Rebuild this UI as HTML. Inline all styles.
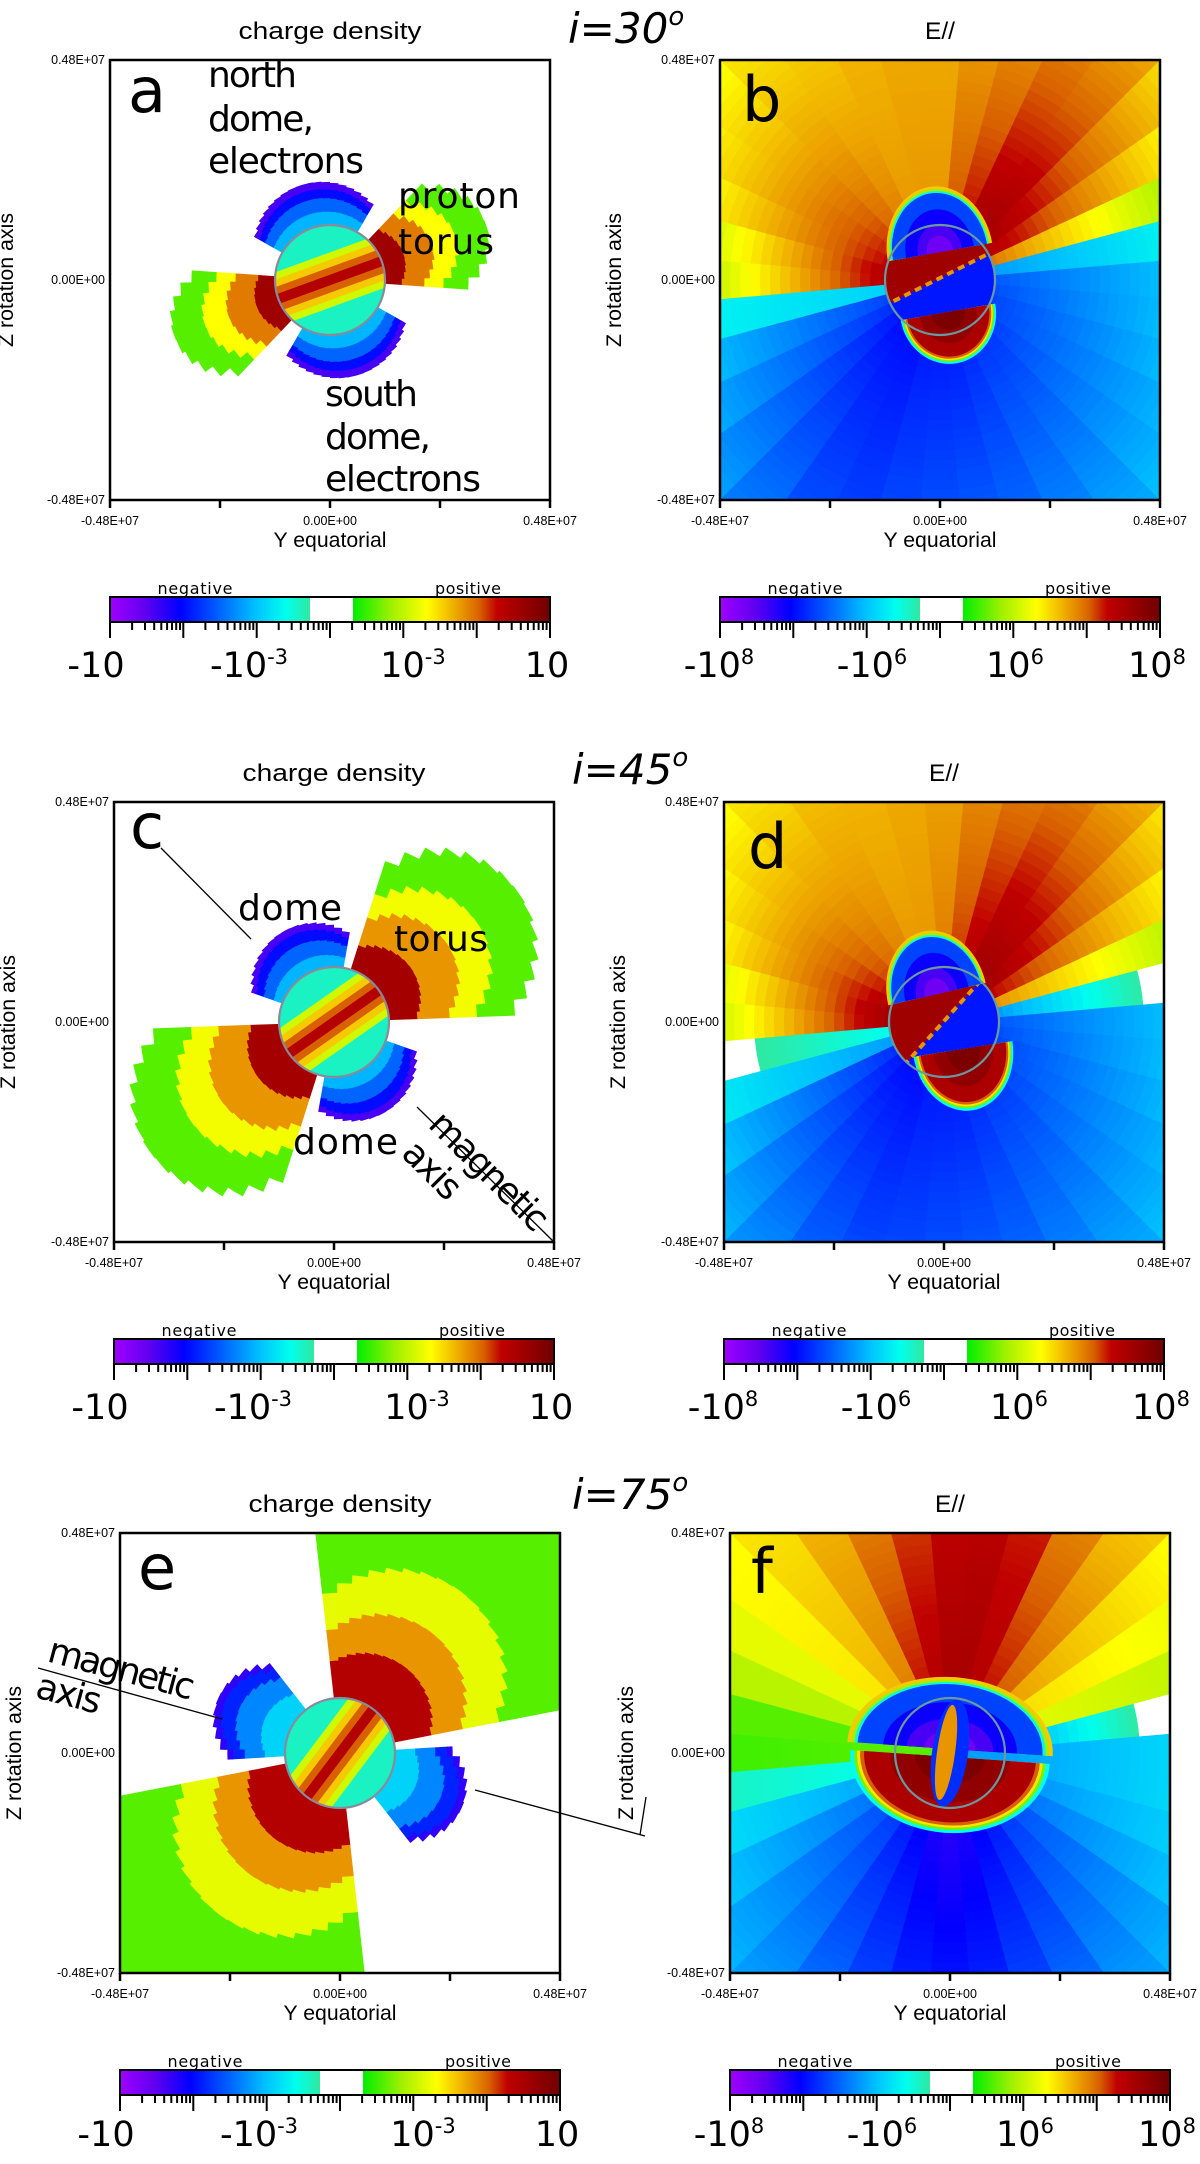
<!DOCTYPE html>
<html><head><meta charset="utf-8"><title>Charge density and E// maps</title>
<style>
html,body{margin:0;padding:0;background:#fff;}
svg{display:block;}
.tk{font-family:"Liberation Sans",sans-serif;font-size:12.5px;fill:#000;}
.ax{font-family:"Liberation Sans",sans-serif;font-size:21px;fill:#000;}
.ttl{font-family:"Liberation Sans",sans-serif;font-size:24px;fill:#000;}
.ann{font-family:"DejaVu Sans","Liberation Sans",sans-serif;font-size:36px;fill:#000;}
.let{font-family:"DejaVu Sans","Liberation Sans",sans-serif;font-size:62px;fill:#000;}
.cbl{font-family:"DejaVu Sans","Liberation Sans",sans-serif;font-size:35px;fill:#000;}
.cbs{font-family:"DejaVu Sans","Liberation Sans",sans-serif;font-size:16px;fill:#000;}
.inc{font-family:"DejaVu Sans","Liberation Sans",sans-serif;font-size:42px;font-style:italic;fill:#000;}
</style></head>
<body>
<svg id="fig" width="1200" height="2164" viewBox="0 0 1200 2164" xmlns="http://www.w3.org/2000/svg">
<defs>
<clipPath id="boxclip"><rect x="0" y="0" width="440" height="440"/></clipPath>
<clipPath id="planetclip"><circle cx="0" cy="0" r="55"/></clipPath>
<linearGradient id="cbar" x1="0" x2="1" y1="0" y2="0">
<stop offset="0" stop-color="#a000ff"/><stop offset="0.08" stop-color="#6000f0"/><stop offset="0.16" stop-color="#0000ff"/>
<stop offset="0.26" stop-color="#0070ff"/><stop offset="0.33" stop-color="#00c0ff"/><stop offset="0.40" stop-color="#00ffee"/>
<stop offset="0.455" stop-color="#30e8a0"/><stop offset="0.455" stop-color="#ffffff"/><stop offset="0.552" stop-color="#ffffff"/>
<stop offset="0.552" stop-color="#00ee00"/><stop offset="0.64" stop-color="#a0f000"/><stop offset="0.72" stop-color="#ffff00"/>
<stop offset="0.78" stop-color="#f0b000"/><stop offset="0.84" stop-color="#d86000"/><stop offset="0.88" stop-color="#c00000"/>
<stop offset="1" stop-color="#700000"/></linearGradient>
</defs>

<text class="inc" x="568" y="43">i=30<tspan font-size="26" dy="-18">o</tspan></text>
<text class="inc" x="572" y="784">i=45<tspan font-size="26" dy="-18">o</tspan></text>
<text class="inc" x="572" y="1509">i=75<tspan font-size="26" dy="-18">o</tspan></text>

<!-- PANEL A -->
<g transform="translate(110,60)">
<g id="hm-a" clip-path="url(#boxclip)"></g>
<rect x="0" y="0" width="440" height="440" fill="none" stroke="#000" stroke-width="2.5"/>
<path d="M0,440v8M110,440v8M220,440v8M330,440v8M440,440v8" stroke="#000" stroke-width="2.5"/>
<text class="ttl" x="220" y="-21" text-anchor="middle" textLength="183" lengthAdjust="spacingAndGlyphs">charge density</text>
<text class="tk" x="-5" y="4" text-anchor="end">0.48E+07</text>
<text class="tk" x="-5" y="224" text-anchor="end">0.00E+00</text>
<text class="tk" x="-5" y="444" text-anchor="end">-0.48E+07</text>
<text class="tk" x="0" y="465" text-anchor="middle">-0.48E+07</text>
<text class="tk" x="220" y="465" text-anchor="middle">0.00E+00</text>
<text class="tk" x="440" y="465" text-anchor="middle">0.48E+07</text>
<text class="ax" x="220" y="487" text-anchor="middle" textLength="113" lengthAdjust="spacingAndGlyphs">Y equatorial</text>
<text class="ax" transform="translate(-97,220) rotate(-90)" text-anchor="middle" textLength="134" lengthAdjust="spacingAndGlyphs">Z rotation axis</text>
<text class="let" x="18" y="52">a</text>
<text class="ann" x="98" y="27" textLength="89">north</text>
<text class="ann" x="98" y="71" textLength="106">dome,</text>
<text class="ann" x="98" y="113" textLength="156">electrons</text>
<text class="ann" x="288" y="148" textLength="122">proton</text>
<text class="ann" x="288" y="194" textLength="96">torus</text>
<text class="ann" x="215" y="346" textLength="93">south</text>
<text class="ann" x="215" y="389" textLength="106">dome,</text>
<text class="ann" x="215" y="431" textLength="156">electrons</text>
</g>
<g transform="translate(110,597)">
<rect x="0" y="0" width="440" height="25" fill="url(#cbar)" stroke="#000" stroke-width="2"/>
<g class="cbt"></g>
<text class="cbs" x="85" y="-3" text-anchor="middle" textLength="75">negative</text>
<text class="cbs" x="358" y="-3" text-anchor="middle" textLength="66">positive</text>
<text class="cbl" x="-14" y="80" text-anchor="middle">-10</text>
<text class="cbl" x="139" y="80" text-anchor="middle">-10<tspan font-size="21" dy="-13">-3</tspan></text>
<text class="cbl" x="303" y="80" text-anchor="middle">10<tspan font-size="21" dy="-13">-3</tspan></text>
<text class="cbl" x="437" y="80" text-anchor="middle">10</text>
</g>

<!-- PANEL B -->
<g transform="translate(720,60)">
<g id="hm-b" clip-path="url(#boxclip)"></g>
<rect x="0" y="0" width="440" height="440" fill="none" stroke="#000" stroke-width="2.5"/>
<path d="M0,440v8M110,440v8M220,440v8M330,440v8M440,440v8" stroke="#000" stroke-width="2.5"/>
<text class="ttl" x="220" y="-21" text-anchor="middle" textLength="30" lengthAdjust="spacingAndGlyphs">E//</text>
<text class="tk" x="-5" y="4" text-anchor="end">0.48E+07</text>
<text class="tk" x="-5" y="224" text-anchor="end">0.00E+00</text>
<text class="tk" x="-5" y="444" text-anchor="end">-0.48E+07</text>
<text class="tk" x="0" y="465" text-anchor="middle">-0.48E+07</text>
<text class="tk" x="220" y="465" text-anchor="middle">0.00E+00</text>
<text class="tk" x="440" y="465" text-anchor="middle">0.48E+07</text>
<text class="ax" x="220" y="487" text-anchor="middle" textLength="113" lengthAdjust="spacingAndGlyphs">Y equatorial</text>
<text class="ax" transform="translate(-99,220) rotate(-90)" text-anchor="middle" textLength="134" lengthAdjust="spacingAndGlyphs">Z rotation axis</text>
<text class="let" x="22" y="61">b</text>
</g>
<g transform="translate(720,597)">
<rect x="0" y="0" width="440" height="25" fill="url(#cbar)" stroke="#000" stroke-width="2"/>
<g class="cbt"></g>
<text class="cbs" x="85" y="-3" text-anchor="middle" textLength="75">negative</text>
<text class="cbs" x="358" y="-3" text-anchor="middle" textLength="66">positive</text>
<text class="cbl" x="-1" y="80" text-anchor="middle">-10<tspan font-size="21" dy="-13">8</tspan></text>
<text class="cbl" x="152" y="80" text-anchor="middle">-10<tspan font-size="21" dy="-13">6</tspan></text>
<text class="cbl" x="295" y="80" text-anchor="middle">10<tspan font-size="21" dy="-13">6</tspan></text>
<text class="cbl" x="437" y="80" text-anchor="middle">10<tspan font-size="21" dy="-13">8</tspan></text>
</g>

<!-- PANEL C -->
<g transform="translate(114,802)">
<g id="hm-c" clip-path="url(#boxclip)"></g>
<rect x="0" y="0" width="440" height="440" fill="none" stroke="#000" stroke-width="2.5"/>
<path d="M0,440v8M110,440v8M220,440v8M330,440v8M440,440v8" stroke="#000" stroke-width="2.5"/>
<text class="ttl" x="220" y="-21" text-anchor="middle" textLength="183" lengthAdjust="spacingAndGlyphs">charge density</text>
<text class="tk" x="-5" y="4" text-anchor="end">0.48E+07</text>
<text class="tk" x="-5" y="224" text-anchor="end">0.00E+00</text>
<text class="tk" x="-5" y="444" text-anchor="end">-0.48E+07</text>
<text class="tk" x="0" y="465" text-anchor="middle">-0.48E+07</text>
<text class="tk" x="220" y="465" text-anchor="middle">0.00E+00</text>
<text class="tk" x="440" y="465" text-anchor="middle">0.48E+07</text>
<text class="ax" x="220" y="487" text-anchor="middle" textLength="113" lengthAdjust="spacingAndGlyphs">Y equatorial</text>
<text class="ax" transform="translate(-99,220) rotate(-90)" text-anchor="middle" textLength="134" lengthAdjust="spacingAndGlyphs">Z rotation axis</text>
<text class="let" x="16" y="46">c</text>
<text class="ann" x="124" y="118" textLength="104">dome</text>
<text class="ann" x="280" y="149" textLength="94">torus</text>
<text class="ann" x="179" y="352" textLength="105">dome</text>
</g>
<g transform="translate(114,1339)">
<rect x="0" y="0" width="440" height="25" fill="url(#cbar)" stroke="#000" stroke-width="2"/>
<g class="cbt"></g>
<text class="cbs" x="85" y="-3" text-anchor="middle" textLength="75">negative</text>
<text class="cbs" x="358" y="-3" text-anchor="middle" textLength="66">positive</text>
<text class="cbl" x="-14" y="80" text-anchor="middle">-10</text>
<text class="cbl" x="139" y="80" text-anchor="middle">-10<tspan font-size="21" dy="-13">-3</tspan></text>
<text class="cbl" x="303" y="80" text-anchor="middle">10<tspan font-size="21" dy="-13">-3</tspan></text>
<text class="cbl" x="437" y="80" text-anchor="middle">10</text>
</g>

<!-- PANEL D -->
<g transform="translate(724,802)">
<g id="hm-d" clip-path="url(#boxclip)"></g>
<rect x="0" y="0" width="440" height="440" fill="none" stroke="#000" stroke-width="2.5"/>
<path d="M0,440v8M110,440v8M220,440v8M330,440v8M440,440v8" stroke="#000" stroke-width="2.5"/>
<text class="ttl" x="220" y="-21" text-anchor="middle" textLength="30" lengthAdjust="spacingAndGlyphs">E//</text>
<text class="tk" x="-5" y="4" text-anchor="end">0.48E+07</text>
<text class="tk" x="-5" y="224" text-anchor="end">0.00E+00</text>
<text class="tk" x="-5" y="444" text-anchor="end">-0.48E+07</text>
<text class="tk" x="0" y="465" text-anchor="middle">-0.48E+07</text>
<text class="tk" x="220" y="465" text-anchor="middle">0.00E+00</text>
<text class="tk" x="440" y="465" text-anchor="middle">0.48E+07</text>
<text class="ax" x="220" y="487" text-anchor="middle" textLength="113" lengthAdjust="spacingAndGlyphs">Y equatorial</text>
<text class="ax" transform="translate(-99,220) rotate(-90)" text-anchor="middle" textLength="134" lengthAdjust="spacingAndGlyphs">Z rotation axis</text>
<text class="let" x="24" y="66">d</text>
</g>
<g transform="translate(724,1339)">
<rect x="0" y="0" width="440" height="25" fill="url(#cbar)" stroke="#000" stroke-width="2"/>
<g class="cbt"></g>
<text class="cbs" x="85" y="-3" text-anchor="middle" textLength="75">negative</text>
<text class="cbs" x="358" y="-3" text-anchor="middle" textLength="66">positive</text>
<text class="cbl" x="-1" y="80" text-anchor="middle">-10<tspan font-size="21" dy="-13">8</tspan></text>
<text class="cbl" x="152" y="80" text-anchor="middle">-10<tspan font-size="21" dy="-13">6</tspan></text>
<text class="cbl" x="295" y="80" text-anchor="middle">10<tspan font-size="21" dy="-13">6</tspan></text>
<text class="cbl" x="437" y="80" text-anchor="middle">10<tspan font-size="21" dy="-13">8</tspan></text>
</g>

<!-- PANEL E -->
<g transform="translate(120,1533)">
<g id="hm-e" clip-path="url(#boxclip)"></g>
<rect x="0" y="0" width="440" height="440" fill="none" stroke="#000" stroke-width="2.5"/>
<path d="M0,440v8M110,440v8M220,440v8M330,440v8M440,440v8" stroke="#000" stroke-width="2.5"/>
<text class="ttl" x="220" y="-21" text-anchor="middle" textLength="183" lengthAdjust="spacingAndGlyphs">charge density</text>
<text class="tk" x="-5" y="4" text-anchor="end">0.48E+07</text>
<text class="tk" x="-5" y="224" text-anchor="end">0.00E+00</text>
<text class="tk" x="-5" y="444" text-anchor="end">-0.48E+07</text>
<text class="tk" x="0" y="465" text-anchor="middle">-0.48E+07</text>
<text class="tk" x="220" y="465" text-anchor="middle">0.00E+00</text>
<text class="tk" x="440" y="465" text-anchor="middle">0.48E+07</text>
<text class="ax" x="220" y="487" text-anchor="middle" textLength="113" lengthAdjust="spacingAndGlyphs">Y equatorial</text>
<text class="ax" transform="translate(-99,220) rotate(-90)" text-anchor="middle" textLength="134" lengthAdjust="spacingAndGlyphs">Z rotation axis</text>
<text class="let" x="18" y="56">e</text>
</g>
<g transform="translate(120,2070)">
<rect x="0" y="0" width="440" height="25" fill="url(#cbar)" stroke="#000" stroke-width="2"/>
<g class="cbt"></g>
<text class="cbs" x="85" y="-3" text-anchor="middle" textLength="75">negative</text>
<text class="cbs" x="358" y="-3" text-anchor="middle" textLength="66">positive</text>
<text class="cbl" x="-14" y="76" text-anchor="middle">-10</text>
<text class="cbl" x="139" y="76" text-anchor="middle">-10<tspan font-size="21" dy="-13">-3</tspan></text>
<text class="cbl" x="303" y="76" text-anchor="middle">10<tspan font-size="21" dy="-13">-3</tspan></text>
<text class="cbl" x="437" y="76" text-anchor="middle">10</text>
</g>

<!-- PANEL F -->
<g transform="translate(730,1533)">
<g id="hm-f" clip-path="url(#boxclip)"></g>
<rect x="0" y="0" width="440" height="440" fill="none" stroke="#000" stroke-width="2.5"/>
<path d="M0,440v8M110,440v8M220,440v8M330,440v8M440,440v8" stroke="#000" stroke-width="2.5"/>
<text class="ttl" x="220" y="-21" text-anchor="middle" textLength="30" lengthAdjust="spacingAndGlyphs">E//</text>
<text class="tk" x="-5" y="4" text-anchor="end">0.48E+07</text>
<text class="tk" x="-5" y="224" text-anchor="end">0.00E+00</text>
<text class="tk" x="-5" y="444" text-anchor="end">-0.48E+07</text>
<text class="tk" x="0" y="465" text-anchor="middle">-0.48E+07</text>
<text class="tk" x="220" y="465" text-anchor="middle">0.00E+00</text>
<text class="tk" x="440" y="465" text-anchor="middle">0.48E+07</text>
<text class="ax" x="220" y="487" text-anchor="middle" textLength="113" lengthAdjust="spacingAndGlyphs">Y equatorial</text>
<text class="ax" transform="translate(-97,220) rotate(-90)" text-anchor="middle" textLength="134" lengthAdjust="spacingAndGlyphs">Z rotation axis</text>
<text class="let" x="21" y="60">f</text>
</g>
<g transform="translate(730,2070)">
<rect x="0" y="0" width="440" height="25" fill="url(#cbar)" stroke="#000" stroke-width="2"/>
<g class="cbt"></g>
<text class="cbs" x="85" y="-3" text-anchor="middle" textLength="75">negative</text>
<text class="cbs" x="358" y="-3" text-anchor="middle" textLength="66">positive</text>
<text class="cbl" x="-1" y="76" text-anchor="middle">-10<tspan font-size="21" dy="-13">8</tspan></text>
<text class="cbl" x="152" y="76" text-anchor="middle">-10<tspan font-size="21" dy="-13">6</tspan></text>
<text class="cbl" x="295" y="76" text-anchor="middle">10<tspan font-size="21" dy="-13">6</tspan></text>
<text class="cbl" x="437" y="76" text-anchor="middle">10<tspan font-size="21" dy="-13">8</tspan></text>
</g>

<path d="M161,848L251,939M417,1107L554,1242" stroke="#000" stroke-width="1.3" fill="none"/>
<text class="ann" font-size="32" transform="translate(427,1126) rotate(45)" textLength="152">magnetic</text>
<text class="ann" font-size="32" transform="translate(400,1155) rotate(45)" textLength="67">axis</text>
<path d="M38,1668L222,1719M475,1790L645,1836" stroke="#000" stroke-width="1.3" fill="none"/>
<path d="M646,1797L640,1835" stroke="#000" stroke-width="1.3" fill="none"/>
<text class="ann" font-size="32" transform="translate(46,1661) rotate(15)" textLength="150">magnetic</text>
<text class="ann" font-size="32" transform="translate(34,1697) rotate(15)" textLength="66">axis</text>
</svg>

<script>
// ===== data: E// (colour position 0..1) per 10-degree direction, near planet / far field =====
const bInner=[0.24,0.30,0.82,0.90,0.92,0.93,0.92,0.88,0.85,0.80,0.80,0.80,0.82,0.84,0.86,0.87,0.88,0.90,0.90,0.35,0.22,0.20,0.18,0.17,0.17,0.17,0.18,0.18,0.18,0.19,0.20,0.20,0.21,0.22,0.22,0.23];
const bOuter=[0.37,0.42,0.60,0.70,0.75,0.79,0.80,0.79,0.78,0.78,0.78,0.77,0.75,0.74,0.72,0.71,0.68,0.60,0.57,0.40,0.36,0.33,0.30,0.27,0.24,0.23,0.24,0.25,0.26,0.27,0.29,0.31,0.33,0.34,0.36,0.37];
const dInner=[0.24,0.30,0.80,0.88,0.92,0.93,0.93,0.90,0.86,0.82,0.80,0.80,0.82,0.84,0.86,0.88,0.90,0.92,0.92,0.40,0.30,0.20,0.18,0.17,0.17,0.17,0.18,0.18,0.18,0.19,0.20,0.20,0.21,0.22,0.22,0.23];
const dOuter=[0.37,0.56,0.62,0.70,0.74,0.78,0.80,0.80,0.79,0.78,0.78,0.77,0.76,0.74,0.72,0.70,0.67,0.60,0.57,0.50,0.40,0.36,0.32,0.29,0.26,0.24,0.24,0.25,0.26,0.27,0.29,0.31,0.33,0.34,0.36,0.37];
const fInner=[0.30,0.30,0.70,0.75,0.80,0.85,0.88,0.90,0.92,0.92,0.90,0.88,0.82,0.78,0.74,0.70,0.66,0.60,0.60,0.40,0.30,0.25,0.22,0.20,0.17,0.15,0.13,0.12,0.13,0.15,0.17,0.20,0.22,0.25,0.28,0.30];
const fOuter=[0.38,0.58,0.66,0.70,0.72,0.76,0.80,0.86,0.88,0.87,0.84,0.80,0.77,0.74,0.72,0.70,0.66,0.60,0.58,0.44,0.38,0.35,0.32,0.30,0.27,0.24,0.21,0.20,0.21,0.24,0.27,0.30,0.32,0.35,0.37,0.38];

// ===== data: charge-density structures (radii in 1e6 m, colour positions 0..1) =====
const aTorusDir=20, aTorusHalf=24;
const aTorusRadii=[1.15,1.7,2.35,2.9,3.6];
const aTorusVals=[0.93,0.82,0.72,0.60];
const aDomeDir=105, aDomeHalf=45;
const aDomeRadii=[1.2,1.5,1.8,2.0,2.15];
const aDomeVals=[0.32,0.25,0.17,0.10];

const cTorusDir=35, cTorusHalf=33;
const cTorusRadii=[1.15,2.05,3.0,3.8,4.9];
const cTorusVals=[0.92,0.80,0.71,0.60];
const cDomeDir=118, cDomeHalf=38;
const cDomeRadii=[1.2,1.5,1.85,2.1,2.25];
const cDomeVals=[0.32,0.25,0.17,0.10];

const eTorusDir=53, eTorusHalf=42;
const eTorusRadii=[1.15,2.35,3.3,4.4,7.0];
const eTorusVals=[0.90,0.80,0.70,0.60];
const eDomeDir=155, eDomeHalf=27;
const eDomeRadii=[1.2,1.8,2.4,2.75,2.9];
const eDomeVals=[0.35,0.28,0.19,0.12];

const NS='http://www.w3.org/2000/svg';
const PX=440/9.6;
const stops=[[0,[160,0,255]],[0.08,[96,0,240]],[0.16,[0,0,255]],[0.26,[0,112,255]],[0.33,[0,192,255]],[0.40,[0,255,238]],[0.455,[48,232,160]],[0.552,[0,238,0]],[0.64,[160,240,0]],[0.72,[255,255,0]],[0.78,[240,176,0]],[0.84,[216,96,0]],[0.88,[192,0,0]],[1,[112,0,0]]];
function cmap(t){
  t=Math.max(0,Math.min(1,t));
  if(t>0.455&&t<0.552) return '#ffffff';
  for(let i=0;i<stops.length-1;i++){
    const [t0,c0]=stops[i],[t1,c1]=stops[i+1];
    if(t>=t0&&t<=t1){const f=(t1===t0)?0:(t-t0)/(t1-t0);
      return 'rgb('+c0.map((v,k)=>Math.round(v+(c1[k]-v)*f)).join(',')+')';}
  }
  return 'rgb(112,0,0)';
}
function mk(tag,parent){const e=document.createElementNS(NS,tag);parent.appendChild(e);return e;}
function wedge(r0,r1,a0,a1){
  const p=(r,a)=>[(r*Math.cos(a*Math.PI/180)).toFixed(2),(-r*Math.sin(a*Math.PI/180)).toFixed(2)];
  const [x1,y1]=p(r1,a0),[x2,y2]=p(r1,a1),[x3,y3]=p(r0,a1),[x4,y4]=p(r0,a0);
  const lg=(a1-a0)>180?1:0;
  return 'M'+x1+','+y1+'A'+r1+','+r1+' 0 '+lg+' 0 '+x2+','+y2+'L'+x3+','+y3+(r0>0?'A'+r0+','+r0+' 0 '+lg+' 1 '+x4+','+y4:'')+'Z';
}
function center(id){const g=document.getElementById(id);const c=mk('g',g);c.setAttribute('transform','translate(220,220)');return c;}

function drawEField(id,inner,outer){
  const c=center(id);
  const bg=mk('g',c);
  
  
  for(let i=0;i<inner.length;i++){
    for(let r=0;r<320;r+=10){
      const f=Math.max(0,Math.min(1,(r+5-55)/245));
      const t=inner[i]+(outer[i]-inner[i])*f;
      const p=mk('path',bg);
      p.setAttribute('d',wedge(r,r+10.6,i*10-5,i*10+5.4));
      p.setAttribute('fill',cmap(t));
      
      
    }
  }
  return c;
}
function cap(parent,bx,by,hw,depth,rot,up,layers,name){
  const g=mk('g',parent);
  g.setAttribute('transform','translate('+bx+','+by+') rotate('+rot+')');
  
  
  layers.forEach(([s,t])=>{
    const p=mk('path',g);
    const w=hw*s,d=depth*s;
    // polyline half-ellipse (robust)
    let pts=[];
    for(let k=0;k<=36;k++){const a=Math.PI*k/36;pts.push((-w*Math.cos(a)).toFixed(1)+','+((up?-1:1)*d*Math.sin(a)).toFixed(1));}
    p.setAttribute('d','M'+pts.join('L')+'Z');
    p.setAttribute('fill',cmap(t));
    
    
  });
  return g;
}
const northLayers=[[1,0.76],[0.96,0.64],[0.93,0.42],[0.9,0.22],[0.65,0.15],[0.42,0.10],[0.25,0.06]];
const southLayers=[[1,0.40],[0.96,0.62],[0.93,0.74],[0.9,0.84],[0.86,0.91],[0.6,0.95],[0.35,0.98]];
function planetInterior(c,redColor,blueColor,linePts){
  const g=mk('g',c);
  g.setAttribute('clip-path','url(#planetclip)');
  
  
  const r=mk('rect',g);r.setAttribute('x',-60);r.setAttribute('y',-60);r.setAttribute('width',120);r.setAttribute('height',120);r.setAttribute('fill',cmap(redColor));
  
  
  const [x1,y1,x2,y2]=linePts;
  const dx=x2-x1,dy=y2-y1,L=Math.hypot(dx,dy),ux=dx/L,uy=dy/L;
  const ax=x1-ux*80,ay=y1-uy*80,bx=x2+ux*80,by=y2+uy*80;
  const nx=-uy,ny=ux;
  const poly=mk('polygon',g);
  poly.setAttribute('points',[ax,ay,bx,by,bx+nx*150,by+ny*150,ax+nx*150,ay+ny*150].map(v=>v.toFixed(1)).join(','));
  poly.setAttribute('fill',cmap(blueColor));
  
  
  const ln=mk('line',g);
  ln.setAttribute('x1',ax);ln.setAttribute('y1',ay);ln.setAttribute('x2',bx);ln.setAttribute('y2',by);
  ln.setAttribute('stroke',cmap(0.8));ln.setAttribute('stroke-width',4);ln.setAttribute('stroke-dasharray','7 5');
  
  
  return g;
}
function planetRing(c,col){
  const e=mk('circle',c);
  e.setAttribute('r',55);e.setAttribute('fill','none');e.setAttribute('stroke',col);e.setAttribute('stroke-width',2.2);
  
  
}

(function(){
  const c=drawEField('hm-b',bInner,bOuter);
  planetInterior(c,0.93,0.18,[-50,23,50,-27]);
  cap(c,0,-28,53,66,-10,true,northLayers,'north-dome-b');
  cap(c,8,32,48,52,-10,false,southLayers,'south-dome-b');
  planetRing(c,'#6a9aa0');
})();
(function(){
  const c=drawEField('hm-d',dInner,dOuter);
  planetInterior(c,0.93,0.18,[-27,29,38,-43]);
  cap(c,-7,-28,50,64,-13,true,northLayers,'north-dome-d');
  cap(c,19,27,50,62,-9,false,southLayers,'south-dome-d');
  planetRing(c,'#6a9aa0');
})();
(function(){
  const c=drawEField('hm-f',fInner,fOuter);
  cap(c,0,-4,103,72,4,true,northLayers,'north-domes-f');
  cap(c,0,4,100,76,4,false,southLayers,'south-domes-f');
  const lens=mk('ellipse',c);
  lens.setAttribute('rx',18);lens.setAttribute('ry',54);lens.setAttribute('fill',cmap(0.2));
  lens.setAttribute('transform','rotate(8)');
  
  
  const lens2=mk('ellipse',c);
  lens2.setAttribute('cx',-4);lens2.setAttribute('rx',9);lens2.setAttribute('ry',48);lens2.setAttribute('fill',cmap(0.8));
  lens2.setAttribute('transform','rotate(8)');
  
  
  planetRing(c,'#6a9aa0');
})();

function fan(c,dir,half,radii,vals,name){
  const g=mk('g',c);
  
  
  [0,180].forEach(off=>{
    for(let a=dir-half;a<dir+half;a+=5){
      const rel=(a+2.5-dir)/half;
      const taper=1-0.3*rel*rel;
      for(let k=0;k<vals.length;k++){
        const r0=k===0?radii[0]*PX:(radii[0]+(radii[k]-radii[0])*taper)*PX;
        const r1=(radii[0]+(radii[k+1]-radii[0])*taper)*PX;
        const p=mk('path',g);
        p.setAttribute('d',wedge(r0,r1+0.6,a+off,a+off+5.4));
        p.setAttribute('fill',cmap(vals[k]));
        
        
      }
    }
  });
}
function chargePlanet(c,dir){
  const g=mk('g',c);
  g.setAttribute('clip-path','url(#planetclip)');
  
  
  const bgc=mk('rect',g);
  bgc.setAttribute('x',-60);bgc.setAttribute('y',-60);bgc.setAttribute('width',120);bgc.setAttribute('height',120);bgc.setAttribute('fill',cmap(0.43));
  
  
  [[26,0.68],[19,0.76],[12,0.84],[5,0.9]].forEach(([h,t])=>{
    const r=mk('rect',g);
    r.setAttribute('x',-70);r.setAttribute('y',-h);r.setAttribute('width',140);r.setAttribute('height',2*h);
    r.setAttribute('fill',cmap(t));r.setAttribute('transform','rotate('+(-dir)+')');
    
    
  });
}
function drawCharge(id,tDir,tHalf,tR,tV,dDir,dHalf,dR,dV){
  const c=center(id);
  fan(c,tDir,tHalf,tR,tV,'torus');
  fan(c,dDir,dHalf,dR,dV,'dome');
  chargePlanet(c,tDir);
  planetRing(c,'#8a8a9a');
}
drawCharge('hm-a',aTorusDir,aTorusHalf,aTorusRadii,aTorusVals,aDomeDir,aDomeHalf,aDomeRadii,aDomeVals);
drawCharge('hm-c',cTorusDir,cTorusHalf,cTorusRadii,cTorusVals,cDomeDir,cDomeHalf,cDomeRadii,cDomeVals);
drawCharge('hm-e',eTorusDir,eTorusHalf,eTorusRadii,eTorusVals,eDomeDir,eDomeHalf,eDomeRadii,eDomeVals);

document.querySelectorAll('g.cbt').forEach(g=>{
  let d='';
  const w=440/6;
  for(let s=0;s<=6;s++){d+='M'+(s*w).toFixed(1)+',25v16';}
  for(let s=0;s<6;s++){for(let k=2;k<=9;k++){d+='M'+(s*w+Math.log10(k)*w).toFixed(1)+',25v8';}}
  const p=mk('path',g);
  p.setAttribute('d',d);p.setAttribute('stroke','#000');p.setAttribute('stroke-width',2);
  
  
});
</script>
</body></html>
